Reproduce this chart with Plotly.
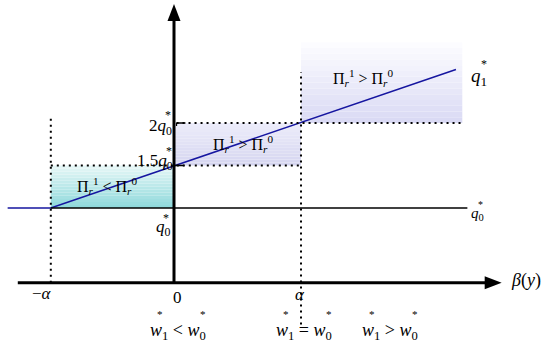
import plotly.graph_objects as go

# ---- schematic values (alpha = 1 unit on x, q0* = 1 unit on y) ----
x_marks = [-0.97, 0.0, 1.0]            # -alpha, 0, alpha
x_mark_labels = ["−<i>α</i>", "0", "<i>α</i>"]
q_levels = [1.0, 1.5, 2.0]             # q0*, 1.5 q0*, 2 q0*
q_level_labels = ["<i>q</i><sub>0</sub>",
                  "1.5<i>q</i><sub>0</sub>",
                  "2<i>q</i><sub>0</sub>"]
axis_y = 0.12                          # position of the beta(y) axis
x_axis_start, x_axis_tip = -1.23, 2.58
y_axis_tip = 3.40
q0_line_end = 2.31

line_x = [-1.31, -0.97, 2.22]          # q1* curve
line_y = [1.0, 1.0, 2.63]

# shaded regions: x0, x1, y0, y1
box_left = [-0.97, 0.0, 1.0, 1.5]
box_mid = [0.0, 1.0, 1.5, 2.0]
box_top = [1.0, 2.27, 2.0, 2.95]

region_labels = ["Π<sub><i>r</i></sub><sup>1</sup> < Π<sub><i>r</i></sub><sup>0</sup>",
                 "Π<sub><i>r</i></sub><sup>1</sup> > Π<sub><i>r</i></sub><sup>0</sup>",
                 "Π<sub><i>r</i></sub><sup>1</sup> > Π<sub><i>r</i></sub><sup>0</sup>"]
region_label_xy = [(-0.53, 1.26), (0.54, 1.75), (1.49, 2.53)]
wage_ops = ["<", "=", ">"]
wage_x = [0.03, 1.02, 1.70]

FONT = "Liberation Serif, Times New Roman, serif"
W, H = 550, 345
XR = [-174 / 127, 376 / 127]
YR = [1 - 137 / 85, 1 + 208 / 85]
sx = (XR[1] - XR[0]) / W   # data per px
sy = (YR[1] - YR[0]) / H

shapes = []


def gradient(box, c_top, c_bot, n=14):
    x0, x1, y0, y1 = box
    for i in range(n):
        t = i / (n - 1)
        c = tuple(int(round(c_bot[k] + (c_top[k] - c_bot[k]) * t)) for k in range(3))
        ya = y0 + (y1 - y0) * i / n
        yb = y0 + (y1 - y0) * (i + 1) / n
        shapes.append(dict(type="rect", xref="x", yref="y", x0=x0, x1=x1, y0=ya, y1=yb,
                           fillcolor="rgb(%d,%d,%d)" % c, line=dict(width=0), layer="below"))


gradient(box_top, (252, 252, 255), (218, 218, 244))
gradient(box_mid, (236, 236, 250), (214, 214, 240))
gradient(box_left, (228, 246, 246), (145, 218, 220))

dot = dict(color="black", width=2, dash="2px,4px")


def seg(x0, y0, x1, y1, line):
    shapes.append(dict(type="line", xref="x", yref="y", x0=x0, y0=y0, x1=x1, y1=y1, line=line))


# dotted guides
seg(x_marks[0], axis_y, x_marks[0], 2.09, dot)
seg(x_marks[2], -0.37, x_marks[2], 2.60, dot)
seg(x_marks[0], q_levels[1], x_marks[2], q_levels[1], dot)
seg(x_marks[1] + 0.02, q_levels[2], box_top[1], q_levels[2], dot)

# q0* level line
seg(x_marks[0], q_levels[0], q0_line_end, q_levels[0], dict(color="black", width=1.5))
# small ticks on vertical axis
seg(0, q_levels[1], 0.08, q_levels[1], dict(color="black", width=1.5))
seg(0.02, q_levels[2], 0.09, q_levels[2], dict(color="black", width=1.5))
seg(0.02, q_levels[2], 0.02, q_levels[2] - 3 * sy, dict(color="black", width=1.2))

# axes
seg(x_axis_start, axis_y, x_axis_tip - 16 * sx, axis_y, dict(color="black", width=3))
seg(0, axis_y, 0, y_axis_tip - 14 * sy, dict(color="black", width=3))

# arrowheads
ah_len, ah_half = 17, 6.5
shapes.append(dict(type="path", xref="x", yref="y", fillcolor="black", line=dict(width=0),
                   path="M %f %f L %f %f L %f %f Z" % (
                       x_axis_tip, axis_y,
                       x_axis_tip - ah_len * sx, axis_y + ah_half * sy,
                       x_axis_tip - ah_len * sx, axis_y - ah_half * sy)))
shapes.append(dict(type="path", xref="x", yref="y", fillcolor="black", line=dict(width=0),
                   path="M %f %f L %f %f L %f %f Z" % (
                       0, y_axis_tip,
                       -ah_half * sx, y_axis_tip - ah_len * sy,
                       ah_half * sx, y_axis_tip - ah_len * sy)))

fig = go.Figure()
fig.add_trace(go.Scatter(x=line_x, y=line_y, mode="lines",
                         line=dict(color="#1616a0", width=1.6), hoverinfo="skip"))

ann = []


def text(x, y, s, size=17, xanchor="center", yanchor="middle"):
    ann.append(dict(x=x, y=y, xref="x", yref="y", text=s, showarrow=False,
                    font=dict(family=FONT, size=size, color="black"),
                    xanchor=xanchor, yanchor=yanchor))


def star(x, y, size=12):
    text(x, y, "*", size=size)


# axis tick labels
text(x_marks[0] - 0.07, axis_y - 11 * sy, x_mark_labels[0])
text(x_marks[1] + 0.03, axis_y - 15 * sy, x_mark_labels[1])
text(x_marks[2] - 0.01, axis_y - 12 * sy, x_mark_labels[2])
# level labels (star placed above the subscript)
text(-0.01, q_levels[0] - 20 * sy, q_level_labels[0], xanchor="right")
star(-0.06, q_levels[0] - 10 * sy)
text(0.005, q_levels[1] + 4 * sy, q_level_labels[1], xanchor="right")
star(-0.04, q_levels[1] + 15 * sy)
text(0.0, q_levels[2] - 4 * sy, q_level_labels[2], xanchor="right")
star(-0.045, q_levels[2] + 8 * sy)
# curve labels
text(2.32, line_y[-1] - 8 * sy, "<i>q</i><sub>1</sub>", size=19, xanchor="left")
star(2.44, line_y[-1] + 5 * sy)
text(2.32, q_levels[0] - 6 * sy, "<i>q</i><sub>0</sub>", size=15, xanchor="left")
star(2.41, q_levels[0] + 4 * sy, size=10)
text(2.64, axis_y + 2 * sy, "<i>β</i>(<i>y</i>)", size=18, xanchor="left")
# region labels
for (rx, ry), rl in zip(region_label_xy, region_labels):
    text(rx, ry, rl, size=16)
# wage regime labels
for wx, op in zip(wage_x, wage_ops):
    text(wx, axis_y - 49 * sy,
         "<i>w</i><sub>1</sub> %s <i>w</i><sub>0</sub>" % op, size=18)
    star(wx - 0.14, axis_y - 31 * sy, size=11)
    star(wx + 0.20, axis_y - 31 * sy, size=11)

fig.update_layout(
    width=W, height=H, margin=dict(l=0, r=0, t=0, b=0),
    paper_bgcolor="white", plot_bgcolor="white",
    showlegend=False, shapes=shapes, annotations=ann,
    xaxis=dict(range=XR, visible=False, fixedrange=True),
    yaxis=dict(range=YR, visible=False, fixedrange=True),
)
fig.write_html("out.html", config={"displayModeBar": False},
               post_script="document.body.style.margin='0';document.body.style.overflow='hidden';")
